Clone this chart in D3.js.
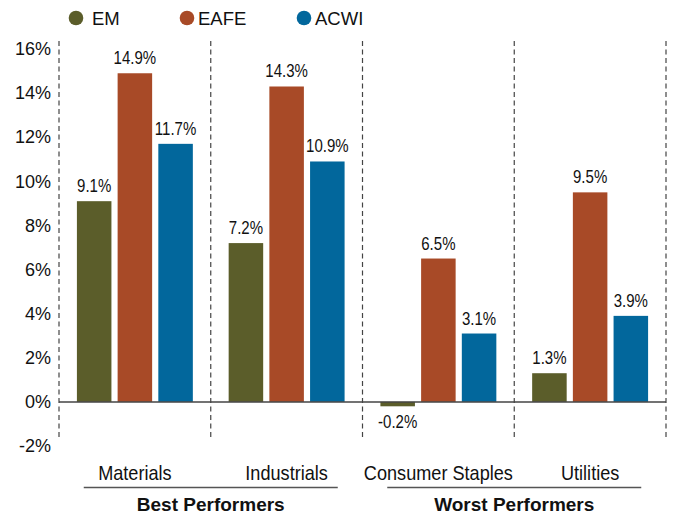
<!DOCTYPE html>
<html>
<head>
<meta charset="utf-8">
<script src="https://cdn.jsdelivr.net/npm/d3@7"></script>
<style>
  html, body { margin: 0; padding: 0; background: #fff; }
  svg { display: block; }
  text { fill: #111; }
</style>
</head>
<body>
<div id="chart"></div>
<script>
// Sector returns by index
const sectors = ["Materials", "Industrials", "Consumer Staples", "Utilities"];
const seriesNames = ["EM", "EAFE", "ACWI"];
const emValues = [9.1, 7.2, -0.2, 1.3];
const eafeValues = [14.9, 14.3, 6.5, 9.5];
const acwiValues = [11.7, 10.9, 3.1, 3.9];
const yTicks = [-2, 0, 2, 4, 6, 8, 10, 12, 14, 16];
const groups = [
  { label: "Best Performers", members: ["Materials", "Industrials"] },
  { label: "Worst Performers", members: ["Consumer Staples", "Utilities"] }
];
const colors = ["#5b5d2a", "#a84a27", "#02679c"];

const width = 673, height = 514;
const sans = "'Liberation Sans', Arial, sans-serif";

const svg = d3.select("#chart").append("svg")
  .attr("width", width).attr("height", height);

const seriesValues = [emValues, eafeValues, acwiValues];
const rows = sectors.map((s, i) => ({
  sector: s,
  values: seriesNames.map((n, k) => ({ name: n, value: seriesValues[k][i], color: colors[k] }))
}));

const x0 = d3.scaleBand().domain(sectors).range([59, 666]).paddingInner(0).paddingOuter(0);
const x1 = d3.scaleBand().domain(seriesNames).range([0, x0.bandwidth()]).paddingInner(0.152).paddingOuter(0.44);
const y = d3.scaleLinear().domain([-2, 16]).range([446, 49]);

// dashed separators between sectors
const seps = sectors.map(s => x0(s)).concat([x0.range()[1]]);
svg.append("g").selectAll("line").data(seps).join("line")
  .attr("x1", d => d).attr("x2", d => d)
  .attr("y1", 41).attr("y2", 439)
  .attr("stroke", "#444").attr("stroke-width", 1.2)
  .attr("stroke-dasharray", "5,3.5");

// y axis labels
const yAxis = d3.axisLeft(y).tickValues(yTicks).tickSize(0).tickPadding(0)
  .tickFormat(d => d + "%");
svg.append("g").attr("transform", "translate(51,0)").call(yAxis)
  .call(g => g.select(".domain").remove())
  .selectAll("text")
  .attr("font-family", sans).attr("font-size", 18).attr("fill", "#111");

// bars
const groupSel = svg.append("g").selectAll("g").data(rows).join("g")
  .attr("transform", d => `translate(${x0(d.sector)},0)`);

groupSel.selectAll("rect").data(d => d.values).join("rect")
  .attr("x", d => x1(d.name))
  .attr("width", x1.bandwidth())
  .attr("y", d => y(Math.max(0, d.value)))
  .attr("height", d => Math.abs(y(d.value) - y(0)))
  .attr("fill", d => d.color);

// value labels, set in a condensed face
groupSel.selectAll("text.val").data(d => d.values).join("text")
  .attr("class", "val")
  .attr("transform", d => {
    const tx = x1(d.name) + x1.bandwidth() / 2;
    const ty = d.value >= 0 ? y(d.value) - 9 : y(d.value) + 22;
    return `translate(${tx},${ty}) scale(0.79,1)`;
  })
  .attr("text-anchor", "middle")
  .attr("font-family", sans).attr("font-size", 19)
  .text(d => d.value.toFixed(1) + "%");

// zero line
svg.append("line")
  .attr("x1", 59).attr("x2", 666)
  .attr("y1", y(0)).attr("y2", y(0))
  .attr("stroke", "#444").attr("stroke-width", 1.5);

// sector labels
svg.append("g").selectAll("text").data(sectors).join("text")
  .attr("transform", d => `translate(${x0(d) + x0.bandwidth() / 2},480) scale(0.93,1)`)
  .attr("text-anchor", "middle")
  .attr("font-family", sans).attr("font-size", 19.5)
  .text(d => d);

// group brackets
groups.forEach(g => {
  const left = x0(g.members[0]);
  const right = x0(g.members[g.members.length - 1]) + x0.bandwidth();
  const cx = (left + right) / 2;
  svg.append("line")
    .attr("x1", cx - 127).attr("x2", cx + 127)
    .attr("y1", 487.5).attr("y2", 487.5)
    .attr("stroke", "#555").attr("stroke-width", 1.5);
  svg.append("text")
    .attr("x", cx).attr("y", 511)
    .attr("text-anchor", "middle")
    .attr("font-family", sans).attr("font-size", 19).attr("font-weight", "bold")
    .text(g.label);
});

// legend
const legendX = [76, 187, 304];
const legend = svg.append("g").selectAll("g").data(seriesNames).join("g")
  .attr("transform", (d, i) => `translate(${legendX[i]},18)`);
legend.append("circle").attr("r", 7.3).attr("fill", (d, i) => colors[i]);
legend.append("text").attr("x", (d, i) => i === 0 ? 16 : 11).attr("y", 6.5)
  .attr("font-family", sans).attr("font-size", 18.5)
  .text(d => d);
</script>
</body>
</html>
